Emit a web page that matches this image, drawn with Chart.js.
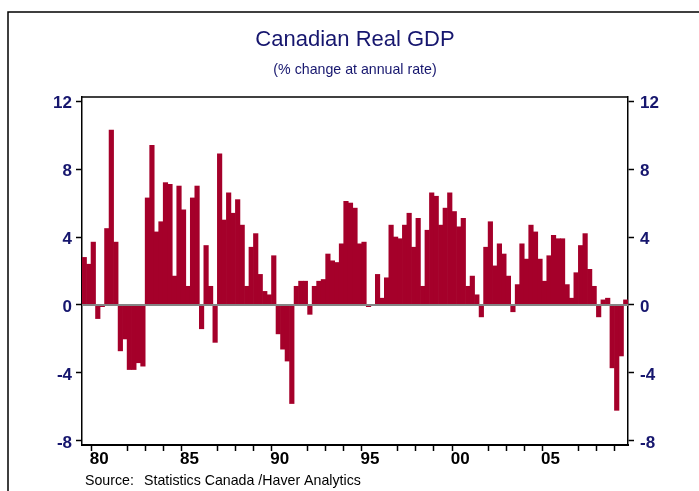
<!DOCTYPE html>
<html>
<head>
<meta charset="utf-8">
<title>Canadian Real GDP</title>
<script src="https://cdn.jsdelivr.net/npm/chart.js@4.4.1/dist/chart.umd.min.js"></script>
<style>
  html, body { margin: 0; padding: 0; background: #fff; }
  canvas { display: block; }
</style>
</head>
<body>
<canvas id="gdpChart" width="699" height="491"></canvas>
<script>
// quarterly real GDP, % change at annual rate, 1979Q3 - 2009Q3
const firstYear = 1979;
const firstQuarter = 3;

const gdpGrowth = [
  2.8, 2.4,
  3.7, -0.8, -0.1, 4.5,     // 1980
  10.3, 3.7, -2.7, -2.0,    // 1981
  -3.8, -3.8, -3.4, -3.6,   // 1982
  6.3, 9.4, 4.3, 4.9,       // 1983
  7.2, 7.1, 1.7, 7.0,       // 1984
  5.6, 1.1, 6.3, 7.0,       // 1985
  -1.4, 3.5, 1.1, -2.2,     // 1986
  8.9, 5.0, 6.6, 5.4,       // 1987
  6.2, 4.7, 1.1, 3.4,       // 1988
  4.2, 1.8, 0.8, 0.6,       // 1989
  2.9, -1.7, -2.6, -3.3,    // 1990
  -5.8, 1.1, 1.4, 1.4,      // 1991
  -0.55, 1.1, 1.4, 1.5,     // 1992
  3.0, 2.6, 2.5, 3.6,       // 1993
  6.1, 6.0, 5.7, 3.6,       // 1994
  3.7, -0.1, 0.0, 1.8,      // 1995
  0.4, 1.6, 4.7, 4.0,       // 1996
  3.9, 4.7, 5.4, 3.4,       // 1997
  5.1, 1.1, 4.4, 6.6,       // 1998
  6.4, 4.7, 5.7, 6.6,       // 1999
  5.5, 4.6, 5.1, 1.1,       // 2000
  1.7, 0.6, -0.7, 3.4,      // 2001
  4.9, 2.3, 3.6, 3.0,       // 2002
  1.7, -0.4, 1.2, 3.6,      // 2003
  2.7, 4.7, 4.3, 2.7,       // 2004
  1.4, 2.9, 4.1, 3.9,       // 2005
  3.9, 1.2, 0.4, 1.9,       // 2006
  3.5, 4.2, 2.1, 1.1,       // 2007
  -0.7, 0.3, 0.4, -3.7,     // 2008
  -6.2, -3.0, 0.3           // 2009
];

const yTicks = [-8, -4, 0, 4, 8, 12];
const labelYears = [1980, 1985, 1990, 1995, 2000, 2005];
const yearLabels = ['80', '85', '90', '95', '00', '05'];

// quarter categories, e.g. "1979Q3"
const quarters = [];
for (let i = 0; i < gdpGrowth.length; i++) {
  const n = firstQuarter - 1 + i;
  quarters.push((firstYear + Math.floor(n / 4)) + 'Q' + (n % 4 + 1));
}

const navy = '#16166e';
const barRed = '#a5002a';
const fontFamily = '"Liberation Sans", Arial, Helvetica, sans-serif';

function yearOf(q) { return parseInt(q.slice(0, 4), 10); }

function xLabel(index) {
  const q = quarters[index];
  if (!q || !q.endsWith('Q3')) return '';
  const k = labelYears.indexOf(yearOf(q));
  return k >= 0 ? yearLabels[k] : '';
}

function xTickColor(ctx) {
  const q = quarters[ctx.index];
  if (!q || !q.endsWith('Q1')) return 'rgba(0,0,0,0)';
  if (yearOf(q) % 5 === 1) return 'rgba(0,0,0,0)';
  return '#000';
}

const decorations = {
  id: 'decorations',
  afterDatasetsDraw(chart) {
    const { ctx, chartArea: a, scales } = chart;
    const zero = scales.y.getPixelForValue(0);
    ctx.save();
    ctx.strokeStyle = '#858585';
    ctx.lineWidth = 2;
    ctx.beginPath();
    ctx.moveTo(a.left, zero);
    ctx.lineTo(a.right, zero);
    ctx.stroke();
    ctx.restore();
  },
  afterDraw(chart) {
    const { ctx, chartArea: a } = chart;
    ctx.save();
    // top frame of the plot
    ctx.strokeStyle = '#000';
    ctx.lineWidth = 1.5;
    ctx.beginPath();
    ctx.moveTo(a.left, a.top);
    ctx.lineTo(a.right, a.top);
    ctx.stroke();
    // outer frame
    ctx.lineWidth = 1.5;
    ctx.beginPath();
    ctx.moveTo(8, chart.height);
    ctx.lineTo(8, 12);
    ctx.lineTo(chart.width, 12);
    ctx.stroke();

    const cx = (a.left + a.right) / 2;
    ctx.fillStyle = navy;
    ctx.textAlign = 'center';
    ctx.textBaseline = 'alphabetic';
    ctx.font = '22px ' + fontFamily;
    ctx.fillText('Canadian Real GDP', cx, 46);
    ctx.font = '14.2px ' + fontFamily;
    ctx.fillText('(% change at annual rate)', cx, 74);

    ctx.fillStyle = '#000';
    ctx.textAlign = 'left';
    ctx.font = '14.2px ' + fontFamily;
    ctx.fillText('Source:', 85, 485);
    ctx.fillText('Statistics Canada /Haver Analytics', 144, 485);
    ctx.restore();
  }
};

new Chart(document.getElementById('gdpChart'), {
  type: 'bar',
  data: {
    labels: quarters,
    datasets: [{
      data: gdpGrowth,
      backgroundColor: barRed,
      borderWidth: 0,
      barPercentage: 1,
      categoryPercentage: 1,
      yAxisID: 'y'
    }]
  },
  options: {
    responsive: false,
    animation: false,
    layout: { padding: { top: 97, left: 0, right: 0, bottom: 0 } },
    plugins: {
      legend: { display: false },
      tooltip: { enabled: false },
      title: { display: false }
    },
    scales: {
      x: {
        type: 'category',
        offset: true,
        afterFit: (s) => { s.height = 46; },
        border: { display: true, color: '#000', width: 2 },
        grid: {
          display: true,
          offset: true,
          drawOnChartArea: false,
          drawTicks: true,
          tickLength: 6,
          tickWidth: 1.5,
          tickColor: xTickColor
        },
        ticks: {
          autoSkip: false,
          maxRotation: 0,
          minRotation: 0,
          padding: 0,
          labelOffset: -3,
          color: '#000',
          font: { family: fontFamily, size: 17, weight: 'bold', lineHeight: 1 },
          callback: (value, index) => xLabel(index)
        }
      },
      y: {
        position: 'left',
        min: -8.24,
        max: 12.24,
        afterFit: (s) => { s.width = 82; },
        afterBuildTicks: (s) => { s.ticks = yTicks.map(v => ({ value: v })); },
        border: { display: true, color: '#000', width: 1.5 },
        grid: {
          drawOnChartArea: false,
          drawTicks: true,
          tickLength: 6,
          tickWidth: 1.5,
          tickColor: '#000'
        },
        ticks: {
          padding: 4,
          labelOffset: 2,
          color: navy,
          font: { family: fontFamily, size: 17, weight: 'bold' }
        }
      },
      y2: {
        position: 'right',
        min: -8.24,
        max: 12.24,
        afterFit: (s) => { s.width = 71; },
        afterBuildTicks: (s) => { s.ticks = yTicks.map(v => ({ value: v })); },
        border: { display: true, color: '#000', width: 1.5 },
        grid: {
          drawOnChartArea: false,
          drawTicks: true,
          tickLength: 6,
          tickWidth: 1.5,
          tickColor: '#000'
        },
        ticks: {
          padding: 6,
          labelOffset: 2,
          color: navy,
          font: { family: fontFamily, size: 17, weight: 'bold' }
        }
      }
    }
  },
  plugins: [decorations]
});
</script>
</body>
</html>
